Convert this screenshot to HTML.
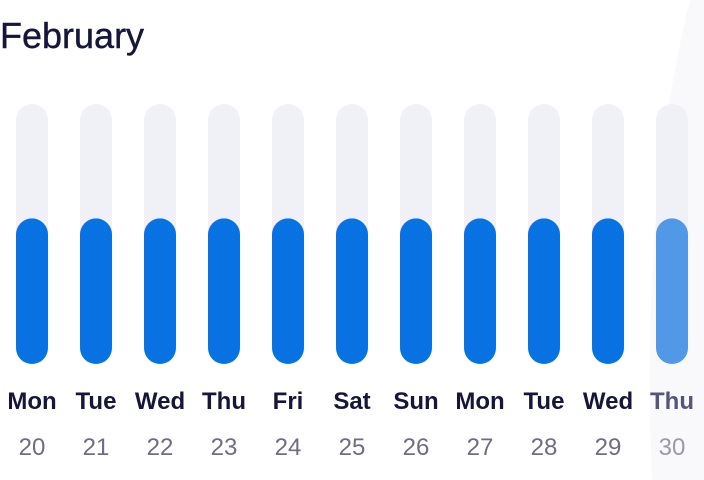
<!DOCTYPE html>
<html><head><meta charset="utf-8"><style>
html,body{margin:0;padding:0;background:#fff;width:704px;height:480px;overflow:hidden}
svg{display:block;font-family:"Liberation Sans",sans-serif}
</style></head><body>
<svg id="c" width="704" height="480">
<path d="M704,0 L690,0 Q640,200 652,480 L704,480 Z" fill="#f9f9fb"/>
<text x="0" y="48" font-size="36" fill="#16163a" stroke="#16163a" stroke-width="0.4">February</text>
<g id="bars"></g>
</svg>
<script>
const days=["Mon","Tue","Wed","Thu","Fri","Sat","Sun","Mon","Tue","Wed","Thu"];
const dates=["20","21","22","23","24","25","26","27","28","29","30"];
const values=[56,56,56,56,56,56,56,56,56,56,56];
const maxV=100;
const gBars=document.getElementById('bars');
const NS='http://www.w3.org/2000/svg';
const X0=16,STEP=64,BW=32,TRACK_TOP=104,TRACK_BOT=364;
const yScale=v=>TRACK_BOT-(TRACK_BOT-TRACK_TOP)*v/maxV;
function mk(t,a){const e=document.createElementNS(NS,t);for(const k in a)e.setAttribute(k,a[k]);gBars.appendChild(e);return e;}
days.forEach((d,i)=>{
  const x=X0+i*STEP;const last=i===days.length-1;
  const tr=mk('rect',{x:x,y:TRACK_TOP,width:BW,height:TRACK_BOT-TRACK_TOP,rx:16,fill:'#f0f1f6'});
  
  
  const yy=yScale(values[i]);
  const f=mk('rect',{x:x,y:yy,width:BW,height:TRACK_BOT-yy,rx:16,fill:last?'#5199e6':'#0872e3'});
  
  
  const t=mk('text',{x:x+BW/2,y:409,'text-anchor':'middle','font-size':24,'font-weight':'bold',fill:last?'#55557a':'#16163a'});
  t.textContent=d;
  
  
  const n=mk('text',{x:x+BW/2,y:455,'text-anchor':'middle','font-size':24,fill:last?'#9a9aab':'#6e6e82'});
  n.textContent=dates[i];
  
  
});
</script>
</body></html>
